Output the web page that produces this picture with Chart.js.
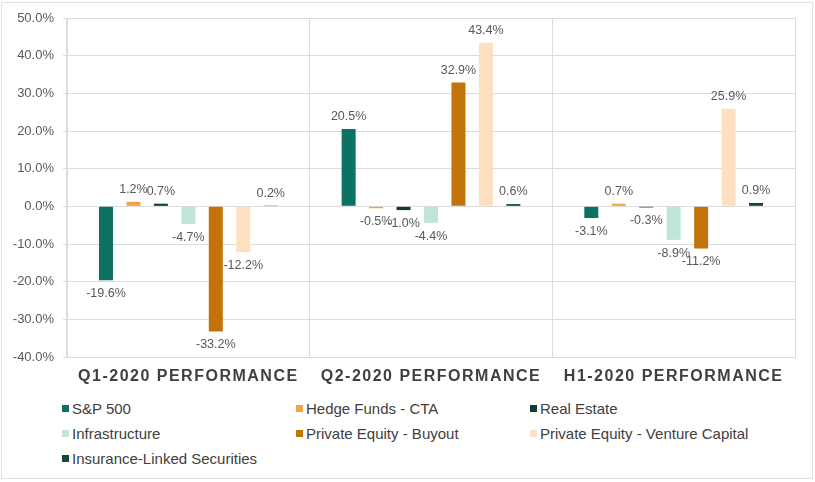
<!DOCTYPE html>
<html>
<head>
<meta charset="utf-8">
<script src="https://cdn.jsdelivr.net/npm/chart.js@4.4.1/dist/chart.umd.min.js"></script>
<style>
  html,body{margin:0;padding:0;background:#fff;}
  body{width:815px;height:482px;position:relative;overflow:hidden;font-family:"Liberation Sans",Arial,sans-serif;}
  .frame{position:absolute;left:1px;top:2px;width:810px;height:475px;border:1px solid #e2e2e2;}
  .wrap{position:absolute;left:0;top:0;width:815px;height:395px;}
  #legend{position:absolute;left:62px;top:398px;display:grid;grid-template-columns:234px 234px 240px;row-gap:5px;}
  #legend .it{display:flex;align-items:center;height:20px;font-size:15px;color:#404040;white-space:nowrap;}
  #legend .bx{width:7px;height:7px;margin-right:3px;flex:none;}
</style>
</head>
<body>
<div class="frame"></div>
<div class="wrap"><canvas id="c"></canvas></div>
<div id="legend"></div>
<script>
  // Daten
  const periods = ['Q1-2020 PERFORMANCE', 'Q2-2020 PERFORMANCE', 'H1-2020 PERFORMANCE'];
  const seriesNames = ['S&P 500', 'Hedge Funds - CTA', 'Real Estate', 'Infrastructure',
                       'Private Equity - Buyout', 'Private Equity - Venture Capital', 'Insurance-Linked Securities'];
  const sp500       = [-19.6, 20.5, -3.1];
  const hedgeCta    = [1.2, -0.5, 0.7];
  const realEstate  = [0.7, -1.0, -0.3];
  const infra       = [-4.7, -4.4, -8.9];
  const peBuyout    = [-33.2, 32.9, -11.2];
  const peVenture   = [-12.2, 43.4, 25.9];
  const ils         = [0.2, 0.6, 0.9];
  const colors = ['#0d7263', '#f2a445', '#0f3d35', '#c0e6da', '#c27309', '#fde0c2', '#104a3e'];

  const seriesValues = [sp500, hedgeCta, realEstate, infra, peBuyout, peVenture, ils];
  const FONT = '"Liberation Sans", Arial, sans-serif';
  const pct = v => v.toFixed(1) + '%';

  // Werte-Labels über/unter den Balken
  const valueLabels = {
    id: 'valueLabels',
    afterDatasetsDraw(chart){
      const ctx = chart.ctx;
      ctx.save();
      ctx.font = '12.5px ' + FONT;
      ctx.fillStyle = '#595959';
      ctx.textAlign = 'center';
      chart.data.datasets.forEach((ds, i) => {
        chart.getDatasetMeta(i).data.forEach((bar, j) => {
          const v = ds.data[j];
          if (v >= 0){ ctx.textBaseline = 'bottom'; ctx.fillText(pct(v), bar.x, bar.y - 6); }
          else       { ctx.textBaseline = 'top';    ctx.fillText(pct(v), bar.x, bar.y + 7); }
        });
      });
      ctx.restore();
    }
  };

  // Buchstabenabstand für die Kategorienamen
  const spacedX = {
    id: 'spacedX',
    beforeDraw(chart){
      const s = chart.scales.x;
      if (!s || s._spaced) return;
      const orig = s.drawLabels;
      s.drawLabels = function(area){
        const c = this.ctx;
        c.save();
        c.letterSpacing = '1.5px';
        orig.call(this, area);
        c.restore();
      };
      s._spaced = true;
    }
  };

  new Chart(document.getElementById('c'), {
    type: 'bar',
    data: {
      labels: periods,
      datasets: seriesNames.map((name, i) => ({
        label: name,
        data: seriesValues[i],
        backgroundColor: colors[i],
        categoryPercentage: 0.792,
        barPercentage: 0.51
      }))
    },
    options: {
      responsive: true,
      maintainAspectRatio: false,
      animation: false,
      layout: { padding: { top: 18, right: 20, left: 0, bottom: 0 } },
      plugins: { legend: { display: false }, tooltip: { enabled: false } },
      scales: {
        x: {
          grid: { color: '#dcdcdc', drawTicks: false, offset: true },
          border: { color: '#dcdcdc' },
          ticks: { color: '#404040', padding: 10, font: { family: FONT, size: 16, weight: 'bold' } },
          afterFit: s => { s.height = 38; }
        },
        y: {
          min: -40, max: 50,
          grid: { color: '#dcdcdc', tickLength: 4 },
          border: { color: '#dcdcdc' },
          ticks: {
            stepSize: 10, color: '#595959', padding: 9,
            font: { family: FONT, size: 13 },
            callback: v => pct(v)
          },
          afterFit: s => { s.width = 67; }
        }
      }
    },
    plugins: [valueLabels, spacedX]
  });

  // Legende (3 Spalten)
  const lg = document.getElementById('legend');
  seriesNames.forEach((name, i) => {
    const it = document.createElement('div');
    it.className = 'it';
    const bx = document.createElement('span');
    bx.className = 'bx';
    bx.style.background = colors[i];
    const tx = document.createElement('span');
    tx.textContent = name;
    it.appendChild(bx); it.appendChild(tx);
    lg.appendChild(it);
  });
</script>
</body>
</html>
